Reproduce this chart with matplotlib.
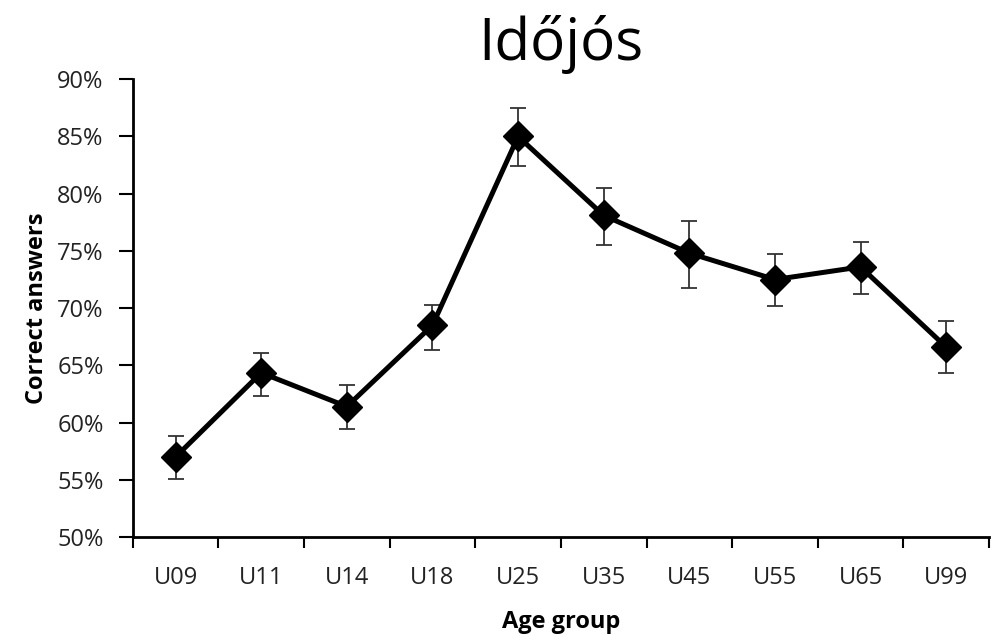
import numpy as np
import matplotlib.pyplot as plt
from matplotlib.ticker import FixedLocator, PercentFormatter

plt.rcParams['font.family'] = ['Open Sans', 'DejaVu Sans']

# Adatok
groups = ['U09', 'U11', 'U14', 'U18', 'U25', 'U35', 'U45', 'U55', 'U65', 'U99']
mean = [57.0, 64.35, 61.4, 68.5, 85.0, 78.1, 74.8, 72.5, 73.6, 66.6]
upper = [58.8, 66.1, 63.3, 70.3, 87.5, 80.5, 77.6, 74.7, 75.8, 68.9]
lower = [55.1, 62.3, 59.4, 66.3, 82.4, 75.5, 71.8, 70.2, 71.2, 64.3]

x = np.arange(len(groups))
err = [np.subtract(mean, lower), np.subtract(upper, mean)]

fig = plt.figure(figsize=(9.91, 6.34), dpi=100)
ax = fig.add_axes([0.134, 0.153, 0.864, 0.722])

ax.errorbar(x, mean, yerr=err, fmt='none', ecolor='#333333',
            elinewidth=1.3, capsize=6, capthick=1.3, zorder=2)
ax.plot(x, mean, color='black', linewidth=3.6, marker='D',
        markersize=15, zorder=3)

ax.set_xlim(-0.5, len(groups) - 0.5)
ax.set_ylim(50, 90)
ax.set_yticks(np.arange(50, 91, 5))
ax.yaxis.set_major_formatter(PercentFormatter(decimals=0))

# kategóriahatárokon a jelölők, középen a feliratok
ax.xaxis.set_major_locator(FixedLocator(np.arange(-0.5, len(groups), 1)))
ax.xaxis.set_minor_locator(FixedLocator(x))
ax.set_xticklabels([], minor=False)
ax.set_xticklabels(groups, minor=True)
ax.tick_params(axis='x', which='major', direction='out', length=8, width=1.5)
ax.tick_params(axis='x', which='minor', length=0, pad=21, labelsize=17,
               labelcolor='#222222')
ax.tick_params(axis='y', direction='out', length=10, width=1.5, labelsize=17,
               pad=11, labelcolor='#222222')

for s in ['top', 'right']:
    ax.spines[s].set_visible(False)
for s in ['left', 'bottom']:
    ax.spines[s].set_linewidth(2)

ax.set_ylabel('Correct answers', fontsize=17, fontweight='bold', labelpad=6)
ax.set_xlabel('Age group', fontsize=17, fontweight='bold', labelpad=14)
ax.set_title('Időjós', fontsize=42, pad=14)

fig.savefig('out.png', dpi=100)
